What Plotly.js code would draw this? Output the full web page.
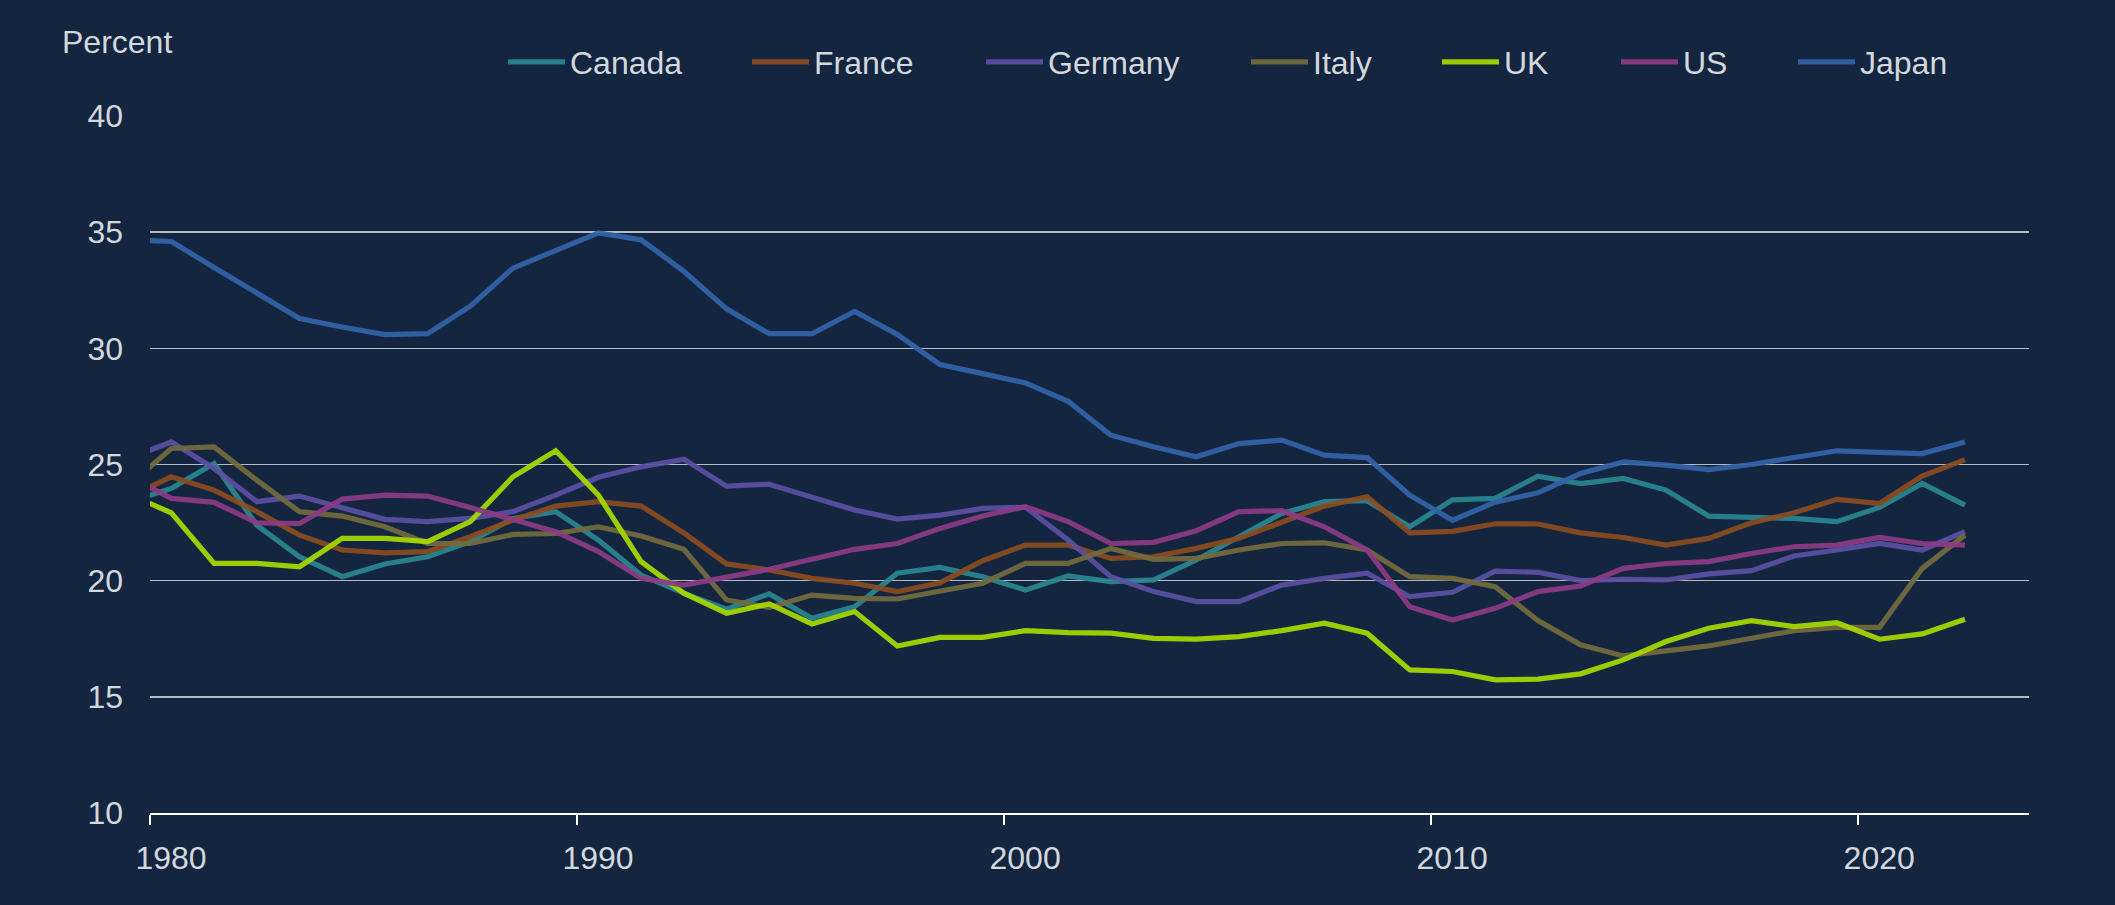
<!DOCTYPE html>
<html>
<head>
<meta charset="utf-8">
<script src="https://cdn.plot.ly/plotly-3.0.1.min.js"></script>
<style>
  html, body { margin: 0; padding: 0; background: #13253f; }
  #chart { width: 2115px; height: 905px; }
</style>
</head>
<body>
<div id="chart"></div>
<script>
// Annual observations (plotted at mid-year)
const years = [1979,1980,1981,1982,1983,1984,1985,1986,1987,1988,1989,1990,1991,1992,1993,1994,1995,1996,1997,1998,1999,2000,2001,2002,2003,2004,2005,2006,2007,2008,2009,2010,2011,2012,2013,2014,2015,2016,2017,2018,2019,2020,2021,2022];

const canada  = [23.39,23.97,25.04,22.39,21.03,20.17,20.72,21.03,21.68,22.68,22.97,21.75,20.24,19.46,18.77,19.43,18.38,18.88,20.32,20.57,20.17,19.60,20.20,19.96,20.03,20.89,21.89,22.89,23.40,23.44,22.32,23.48,23.54,24.50,24.18,24.40,23.90,22.78,22.72,22.68,22.54,23.15,24.18,23.25];
const france  = [23.61,24.47,23.90,22.97,21.96,21.32,21.20,21.25,21.89,22.61,23.21,23.40,23.21,22.06,20.72,20.46,20.10,19.89,19.53,19.91,20.86,21.53,21.53,20.96,21.03,21.39,21.82,22.54,23.21,23.61,22.06,22.12,22.45,22.44,22.06,21.86,21.53,21.82,22.49,22.92,23.50,23.32,24.50,25.21];
const germany = [25.27,25.97,24.83,23.40,23.64,23.15,22.64,22.54,22.68,22.97,23.68,24.45,24.90,25.23,24.07,24.15,23.57,23.04,22.65,22.82,23.11,23.16,21.75,20.17,19.53,19.10,19.10,19.81,20.10,20.32,19.31,19.50,20.41,20.36,20.00,20.06,20.03,20.29,20.43,21.06,21.32,21.60,21.32,22.11];
const italy   = [24.11,25.69,25.76,24.33,22.97,22.78,22.32,21.60,21.60,21.99,22.03,22.32,21.92,21.35,19.17,18.85,19.38,19.24,19.21,19.53,19.89,20.74,20.74,21.39,20.92,20.96,21.32,21.60,21.63,21.32,20.17,20.10,19.74,18.28,17.24,16.76,16.95,17.19,17.52,17.85,17.99,17.99,20.53,21.96];
const uk      = [23.72,22.92,20.74,20.74,20.60,21.82,21.82,21.68,22.54,24.47,25.59,23.68,20.82,19.46,18.60,19.00,18.14,18.67,17.19,17.56,17.56,17.85,17.76,17.74,17.52,17.48,17.59,17.85,18.17,17.74,16.16,16.09,15.73,15.76,15.99,16.59,17.38,17.95,18.28,18.02,18.19,17.48,17.71,18.34];
const us      = [24.48,23.54,23.37,22.49,22.46,23.51,23.68,23.64,23.15,22.61,22.11,21.25,20.10,19.81,20.14,20.49,20.92,21.35,21.60,22.25,22.78,23.18,22.54,21.60,21.65,22.15,22.97,23.01,22.32,21.32,18.88,18.31,18.81,19.53,19.77,20.53,20.74,20.82,21.17,21.46,21.53,21.86,21.60,21.53];
const japan   = [34.68,34.60,33.48,32.38,31.28,30.92,30.59,30.63,31.81,33.45,34.24,34.97,34.67,33.32,31.70,30.63,30.63,31.59,30.60,29.30,28.91,28.51,27.72,26.26,25.76,25.33,25.90,26.05,25.40,25.30,23.68,22.60,23.38,23.78,24.61,25.11,24.97,24.78,25.00,25.30,25.59,25.52,25.47,25.97];

const seriesNames = ["Canada","France","Germany","Italy","UK","US","Japan"];
const seriesValues = [canada, france, germany, italy, uk, us, japan];
const seriesColors = ["#2a8590","#8b4c1f","#5b4fa3","#736b3e","#a8da00","#8d3b86","#3463a8"];

const xTickVals = [1980,1990,2000,2010,2020];
const yTickVals = [10,15,20,25,30,35,40];

// layout geometry (pixels)
const W = 2115, H = 905;
const M = {l:150, r:86, t:116, b:92};
const plotW = W - M.l - M.r, plotH = H - M.t - M.b;
const legendSwatchStarts = [508,752,986,1251,1442,1621,1798];
const legendCenterY = 62;

const xMid = years.map(y => y + 0.5);
const FONT = "'Liberation Sans', Arial, sans-serif";
const TXT = "#d3d7de";

const traces = seriesNames.map((name, i) => ({
  type: "scatter",
  mode: "lines",
  name: name,
  x: xMid,
  y: seriesValues[i],
  line: {color: seriesColors[i], width: 5.2},
  opacity: 0.92,
  legend: i === 0 ? "legend" : "legend" + (i + 1),
  hoverinfo: "x+y+name"
}));

const layout = {
  width: W, height: H,
  paper_bgcolor: "#13253f",
  plot_bgcolor: "#13253f",
  margin: {l: M.l, r: M.r, t: M.t, b: M.b, autoexpand: false},
  font: {family: FONT, size: 32, color: TXT},
  showlegend: true,
  xaxis: {
    range: [1980, 2024],
    tickvals: xTickVals,
    ticktext: xTickVals.map(String),
    ticks: "outside",
    ticklen: 10,
    tickwidth: 2,
    tickcolor: "#ffffff",
    showline: true,
    linecolor: "#ffffff",
    linewidth: 2,
    showgrid: false,
    zeroline: false,
    ticklabelshift: 21,
    ticklabelstandoff: 6,
    tickfont: {family: FONT, size: 32, color: TXT}
  },
  yaxis: {
    range: [10, 40],
    tickvals: yTickVals,
    ticks: "",
    showline: false,
    showgrid: true,
    gridcolor: "#b4bac3",
    gridwidth: 1.6,
    zeroline: false,
    ticklabelstandoff: 26,
    tickfont: {family: FONT, size: 32, color: TXT}
  },
  annotations: [{
    text: "Percent",
    xref: "paper", yref: "paper",
    x: (60 - M.l) / plotW, y: 1 + (M.t - 42) / plotH,
    xanchor: "left", yanchor: "middle",
    showarrow: false,
    font: {family: FONT, size: 32, color: TXT}
  }]
};

legendSwatchStarts.forEach((px, i) => {
  const key = i === 0 ? "legend" : "legend" + (i + 1);
  layout[key] = {
    orientation: "h",
    x: (px - 5 - M.l) / plotW,
    y: 1 + (M.t - legendCenterY) / plotH,
    xanchor: "left", yanchor: "middle",
    bgcolor: "rgba(0,0,0,0)",
    borderwidth: 0,
    itemwidth: 57,
    font: {family: FONT, size: 32, color: TXT}
  };
});

Plotly.newPlot("chart", traces, layout, {displayModeBar: false, staticPlot: true});
</script>
</body>
</html>
